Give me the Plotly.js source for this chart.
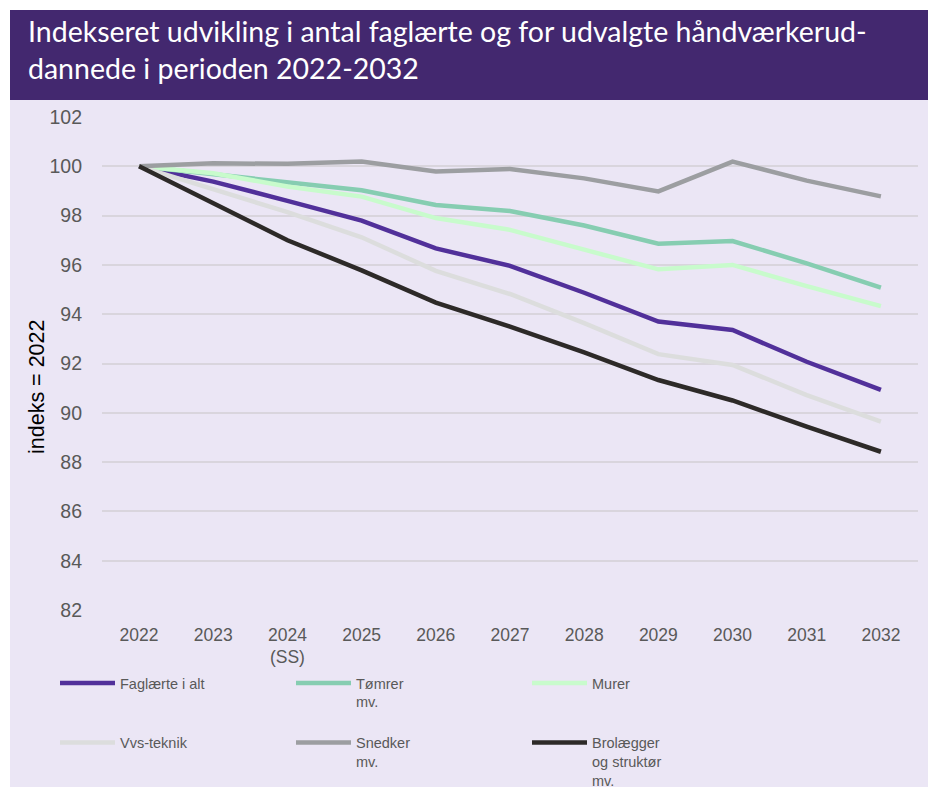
<!DOCTYPE html>
<html>
<head>
<meta charset="utf-8">
<script src="https://cdn.plot.ly/plotly-3.0.1.min.js"></script>
<style>html,body{margin:0;padding:0;background:#fff;}#chart{width:928px;height:787px;}</style>
</head>
<body>
<div id="chart"></div>
<script>
// Categories (x axis)
const years = ['2022', '2023', '2024<br>(SS)', '2025', '2026', '2027', '2028', '2029', '2030', '2031', '2032'];

// Series values (index, 2022 = 100)
const faglaerteIAlt = [100, 99.38, 98.60, 97.80, 96.67, 95.96, 94.87, 93.70, 93.36, 92.07, 90.93];
const toemrer      = [100, 99.68, 99.32, 99.03, 98.43, 98.19, 97.60, 96.86, 96.97, 96.06, 95.08];
const murer        = [100, 99.72, 99.18, 98.77, 97.90, 97.42, 96.62, 95.82, 96.00, 95.14, 94.33];
const vvsTeknik    = [100, 99.08, 98.14, 97.12, 95.76, 94.82, 93.64, 92.38, 91.94, 90.72, 89.64];
const snedker      = [100, 100.12, 100.10, 100.19, 99.79, 99.89, 99.51, 98.98, 100.19, 99.42, 98.78];
const brolaegger   = [100, 98.52, 97.00, 95.78, 94.47, 93.50, 92.45, 91.33, 90.50, 89.44, 88.42];

// Legend names
const seriesNames = ['Faglærte i alt', 'Tømrer<br>mv.<br>&nbsp;', 'Murer', 'Vvs-teknik', 'Snedker<br>mv.', 'Brolægger<br>og struktør<br>mv.'];
const seriesData = [faglaerteIAlt, toemrer, murer, vvsTeknik, snedker, brolaegger];
const seriesColors = ['#51309a', '#86cdb1', '#c8fbcc', '#dcdddd', '#9c9ea1', '#2d2a28'];

const yTicks = [82, 84, 86, 88, 90, 92, 94, 96, 98, 100, 102];

const traces = seriesData.map((vals, i) => ({
  type: 'scatter',
  mode: 'lines',
  x: years,
  y: vals,
  name: seriesNames[i],
  line: {color: seriesColors[i], width: 4.5},
  hoverinfo: 'x+y+name'
}));

// geometry helpers (pixel -> paper)
const L = 102, R = 10, T = 117, B = 177, W = 928, H = 787;
const pw = W - L - R, ph = H - T - B;
const px = x => (x - L) / pw;
const py = y => (H - B - y) / ph;

const layout = {
  width: W, height: H,
  paper_bgcolor: '#ffffff',
  plot_bgcolor: 'rgba(0,0,0,0)',
  margin: {l: L, r: R, t: T, b: B, autoexpand: false},
  showlegend: true,
  font: {family: 'Liberation Sans, Arial, sans-serif', color: '#595959'},
  title: {
    text: 'Indekseret udvikling i antal faglærte og for udvalgte håndværkerud-<br>dannede i perioden 2022-2032',
    x: 28 / W, xref: 'container', xanchor: 'left',
    y: 1 - 42 / H, yref: 'container', yanchor: 'top',
    font: {family: 'Lato, sans-serif', size: 28.5, color: '#ffffff'}
  },
  xaxis: {
    type: 'category',
    range: [-0.5, 10.5],
    showgrid: false, zeroline: false, showline: false,
    ticks: '',
    tickfont: {family: 'Liberation Sans, Arial, sans-serif', size: 17.5, color: '#595959'},
    ticklabelstandoff: 12,
    fixedrange: true
  },
  yaxis: {
    range: [82, 102],
    tickvals: yTicks,
    ticktext: yTicks.map(String),
    showgrid: true, gridcolor: '#d9d5dd', gridwidth: 2,
    zeroline: false, showline: false,
    ticks: '',
    tickfont: {family: 'Liberation Sans, Arial, sans-serif', size: 19.5, color: '#595959'},
    ticklabelstandoff: 19,
    fixedrange: true
  },
  legend: {
    orientation: 'h',
    x: px(55), xanchor: 'left',
    y: py(667), yanchor: 'top',
    entrywidth: 166, entrywidthmode: 'pixels',
    itemwidth: 55,
    valign: 'top',
    traceorder: 'normal',
    bgcolor: 'rgba(0,0,0,0)',
    font: {family: 'Liberation Sans, Arial, sans-serif', size: 14.5, color: '#595959'},
    tracegroupgap: 0
  },
  shapes: [
    {type: 'rect', xref: 'paper', yref: 'paper', layer: 'below',
     x0: px(10), x1: px(W + 5), y0: py(H + 5), y1: py(100),
     fillcolor: '#ebe6f5', line: {width: 0}},
    {type: 'rect', xref: 'paper', yref: 'paper', layer: 'below',
     x0: px(10), x1: px(W + 5), y0: py(100), y1: py(10),
     fillcolor: '#43286f', line: {width: 0}}
  ],
  annotations: [
    {text: 'indeks = 2022', textangle: -90, xref: 'paper', yref: 'paper',
     x: px(37), y: py(387), xanchor: 'center', yanchor: 'middle', showarrow: false,
     font: {family: 'Liberation Sans, Arial, sans-serif', size: 21.5, color: '#000000'}}
  ]
};

Plotly.newPlot('chart', traces, layout, {displayModeBar: false, staticPlot: true});
</script>
</body>
</html>
